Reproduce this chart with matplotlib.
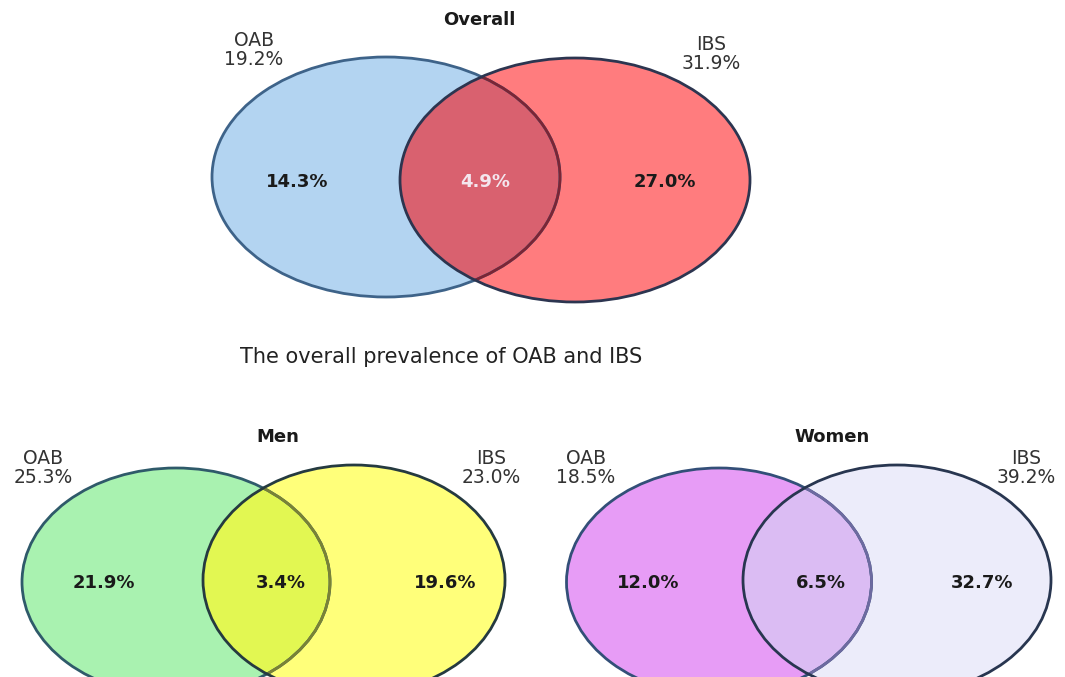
import matplotlib
matplotlib.use("Agg")
import matplotlib.pyplot as plt
from matplotlib.patches import Ellipse

# ---- data ----
panels = ["Overall", "Men", "Women"]
oab_total = ["19.2%", "25.3%", "18.5%"]
ibs_total = ["31.9%", "23.0%", "39.2%"]
oab_only = ["14.3%", "21.9%", "12.0%"]
both = ["4.9%", "3.4%", "6.5%"]
ibs_only = ["27.0%", "19.6%", "32.7%"]
caption = "The overall prevalence of OAB and IBS"

# ---- layout (pixel coords, y down) ----
layout = {
    "Overall": dict(oab=(386, 177, 348, 240), ibs=(575, 180, 350, 244),
                    title=(479, 20), oab_lab=(254, 50), ibs_lab=(711, 54),
                    row=182, xs=(297, 485, 665)),
    "Men": dict(oab=(176, 582, 308, 228), ibs=(354, 580, 302, 230),
                title=(278, 437), oab_lab=(43, 468), ibs_lab=(491, 468),
                row=583, xs=(104, 281, 445)),
    "Women": dict(oab=(719, 582, 305, 228), ibs=(897, 580, 308, 230),
                  title=(832, 437), oab_lab=(586, 468), ibs_lab=(1026, 468),
                  row=583, xs=(648, 821, 982)),
}
style = {
    "Overall": dict(oab_fc="#b3d4f1", ibs_fc="#ff7c7e", mid_fc="#d9616f",
                    oab_ec="#3e6389", ibs_ec="#2c3550", inner_ec="#7a2535", mid_tc="#f4e6ee"),
    "Men": dict(oab_fc="#a9f2b0", ibs_fc="#ffff7a", mid_fc="#e2f752",
                oab_ec="#2f5a6a", ibs_ec="#253a40", inner_ec="#7a8235", mid_tc="#1a1a1a"),
    "Women": dict(oab_fc="#e79cf6", ibs_fc="#ececfa", mid_fc="#dbbcf3",
                  oab_ec="#334f78", ibs_ec="#283650", inner_ec="#6d6aa0", mid_tc="#1a1a1a"),
}

plt.rcParams['font.family'] = ['DejaVu Sans']

fig = plt.figure(figsize=(10.65, 6.77), dpi=100)
ax = fig.add_axes([0, 0, 1, 1])
ax.set_xlim(0, 1065)
ax.set_ylim(677, 0)
ax.axis("off")

for i, name in enumerate(panels):
    L = layout[name]
    S = style[name]
    ox, oy, ow, oh = L["oab"]
    ix, iy, iw, ih = L["ibs"]

    # base fills
    ax.add_patch(Ellipse((ox, oy), ow, oh, fc=S["oab_fc"], ec="none", zorder=1))
    ax.add_patch(Ellipse((ix, iy), iw, ih, fc=S["ibs_fc"], ec="none", zorder=1))
    # overlap region
    clip = Ellipse((ox, oy), ow, oh, transform=ax.transData)
    mid = Ellipse((ix, iy), iw, ih, fc=S["mid_fc"], ec="none", zorder=2)
    ax.add_patch(mid)
    mid.set_clip_path(clip)
    # OAB outline, darker where covered by IBS
    ax.add_patch(Ellipse((ox, oy), ow, oh, fc="none", ec=S["oab_ec"], lw=2, zorder=3))
    clip2 = Ellipse((ix, iy), iw, ih, transform=ax.transData)
    inner = Ellipse((ox, oy), ow, oh, fc="none", ec=S["inner_ec"], lw=2, zorder=4)
    ax.add_patch(inner)
    inner.set_clip_path(clip2)
    # IBS outline
    ax.add_patch(Ellipse((ix, iy), iw, ih, fc="none", ec=S["ibs_ec"], lw=2, zorder=5))

    # texts
    tx, ty = L["title"]
    ax.text(tx, ty, name, ha="center", va="center", fontsize=13,
            fontweight="bold", color="#1a1a1a", zorder=6)
    ax.text(*L["oab_lab"], "OAB\n" + oab_total[i], ha="center", va="center",
            fontsize=13.5, color="#333333", linespacing=0.95, zorder=6)
    ax.text(*L["ibs_lab"], "IBS\n" + ibs_total[i], ha="center", va="center",
            fontsize=13.5, color="#333333", linespacing=0.95, zorder=6)

    row = L["row"]
    left_x, mid_x, right_x = L["xs"]
    ax.text(left_x, row, oab_only[i], ha="center", va="center", fontsize=13,
            fontweight="bold", color="#1a1a1a", zorder=6)
    ax.text(mid_x, row, both[i], ha="center", va="center", fontsize=13,
            fontweight="bold", color=S["mid_tc"], zorder=6)
    ax.text(right_x, row, ibs_only[i], ha="center", va="center", fontsize=13,
            fontweight="bold", color="#1a1a1a", zorder=6)

ax.text(441, 357, caption, ha="center", va="center", fontsize=15, color="#222222")

fig.savefig("out.png", dpi=100)
